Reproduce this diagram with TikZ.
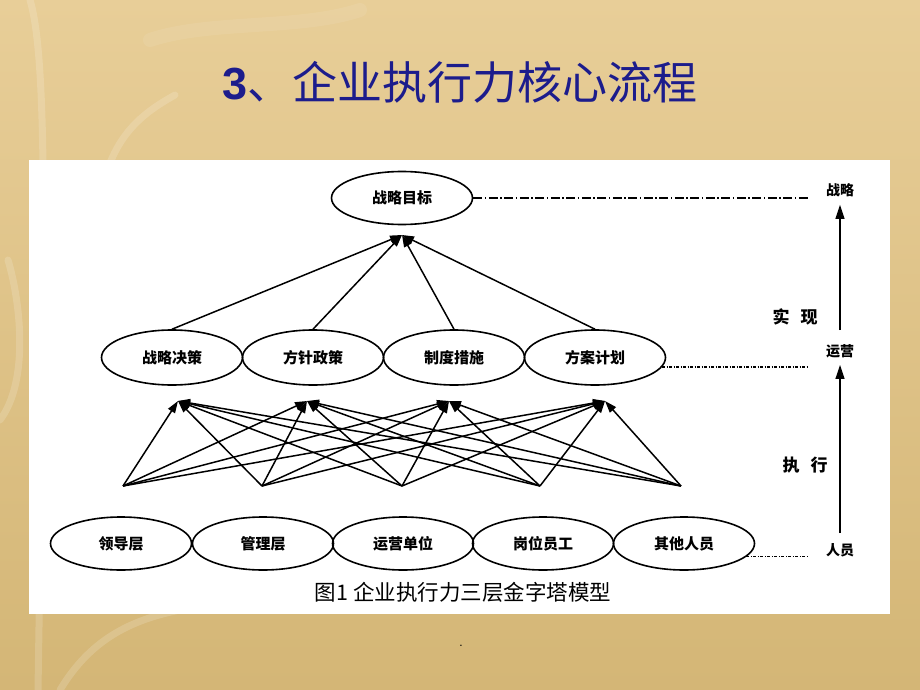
\documentclass[tikz,border=0pt]{standalone}
\usepackage{fontspec}
\setmainfont{Liberation Sans}
\newfontfamily\cjk{Noto Sans CJK SC}
\usetikzlibrary{arrows.meta,shapes.geometric,calc}
\definecolor{titleblue}{RGB}{28,28,140}
\definecolor{bgA}{RGB}{232,206,152}
\definecolor{bgB}{RGB}{212,182,118}
\begin{document}
\begin{tikzpicture}[x=1pt,y=-1pt,
  oval/.style={ellipse,draw,line width=1.6pt,minimum width=141pt,minimum height=54pt,inner sep=0pt,font=\cjk\bfseries\fontsize{15}{18}\selectfont},
  link/.style={line width=1.5pt,-{Triangle[length=12pt,width=8pt]}},
  axisarrow/.style={line width=1.2pt,-{Triangle[length=14pt,width=9pt]}},
  lab/.style={font=\cjk\bfseries\fontsize{14}{16}\selectfont,inner sep=1pt},
  biglab/.style={font=\cjk\bfseries\fontsize{17}{19}\selectfont,inner sep=1pt},
  dashdotline/.style={line width=1.4pt,dash pattern=on 9pt off 2.5pt on 1.5pt off 2.5pt},
  dotline/.style={line width=1.4pt,dash pattern=on 3pt off 1.5pt on 1pt off 1.5pt},
  swirl/.style={white,opacity=0.16,line width=7pt,line cap=round}]
\useasboundingbox (0,0) rectangle (920,690);
% background
\shade[top color=bgA,bottom color=bgB] (0,0) rectangle (920,690);
\draw[swirl] (30,0) .. controls (48,60) and (45,250) .. (38,690);
\draw[swirl] (95,250) .. controls (98,150) and (130,120) .. (175,95);
\draw[swirl] (0,420) .. controls (30,380) and (20,300) .. (8,260);
\draw[swirl] (60,690) .. controls (90,640) and (130,620) .. (180,610);
\draw[swirl,opacity=0.08,line width=14pt] (150,40) .. controls (210,20) and (300,30) .. (360,10);
% white panel
\fill[white] (29,160) rectangle (890,614);
% title
\node[text=titleblue] (title) at (460,82)
  {\fontsize{45}{50}\selectfont{\bfseries 3}\cjk 、企业执行力核心流程};
% nodes
\node[oval,minimum height=53pt] (goal) at (402,198) {战略目标};
\node[oval,minimum height=55pt] (m1) at (172,357.5) {战略决策};
\node[oval,minimum height=55pt] (m2) at (313,357.5) {方针政策};
\node[oval,minimum height=55pt] (m3) at (454,357.5) {制度措施};
\node[oval,minimum height=55pt] (m4) at (595,357.5) {方案计划};
\node[oval,minimum height=53pt] (b1) at (121,543.5) {领导层};
\node[oval,minimum height=53pt] (b2) at (263,543.5) {管理层};
\node[oval,minimum height=53pt] (b3) at (403,543.5) {运营单位};
\node[oval,minimum height=53pt] (b4) at (543,543.5) {岗位员工};
\node[oval,minimum height=53pt] (b5) at (684,543.5) {其他人员};
% connector end points
\coordinate (gt) at (402,235);
\coordinate (t1) at (178,401);
\coordinate (t2) at (307,401);
\coordinate (t3) at (449,401);
\coordinate (t4) at (605,401);
\coordinate (s1) at (123,486);
\coordinate (s2) at (262,486);
\coordinate (s3) at (402,486);
\coordinate (s4) at (540,486);
\coordinate (s5) at (681,486);
% arrows
\foreach \i in {1,...,4} \draw[link] (m\i.north) -- (gt);
\foreach \s in {1,...,5} \foreach \t in {1,...,4} \draw[link] (s\s) -- (t\t);
% right axis
\node[lab] (lz) at (840,190) {战略};
\node[lab] (ly) at (840,351) {运营};
\node[lab] (lr) at (840,550) {人员};
\node[biglab] (sx) at (795,317) {实\hspace{11pt}现};
\node[biglab] (zx) at (805,465) {执\hspace{11pt}行};
\draw[axisarrow,shorten <=13pt,shorten >=7pt] (ly.north) -- (lz.south);
\draw[axisarrow,shorten <=9pt,shorten >=6pt] (lr.north) -- (ly.south);
\draw[dashdotline,shorten >=17pt] (goal.east) -- (goal.east -| lz.west);
\draw[dotline,shorten >=17pt] (m4.-8) -- (m4.-8 -| ly.west);
\draw[dotline,shorten >=17pt] (b5.-12) -- (b5.-12 -| lr.west);
% caption
\node[font=\cjk\fontsize{21.5}{24}\selectfont] (cap) at (463,592) {图1 企业执行力三层金字塔模型};
\node[font=\fontsize{12}{14}\selectfont,inner sep=0pt] (dot) at (461,646) {.};
\end{tikzpicture}
\end{document}
